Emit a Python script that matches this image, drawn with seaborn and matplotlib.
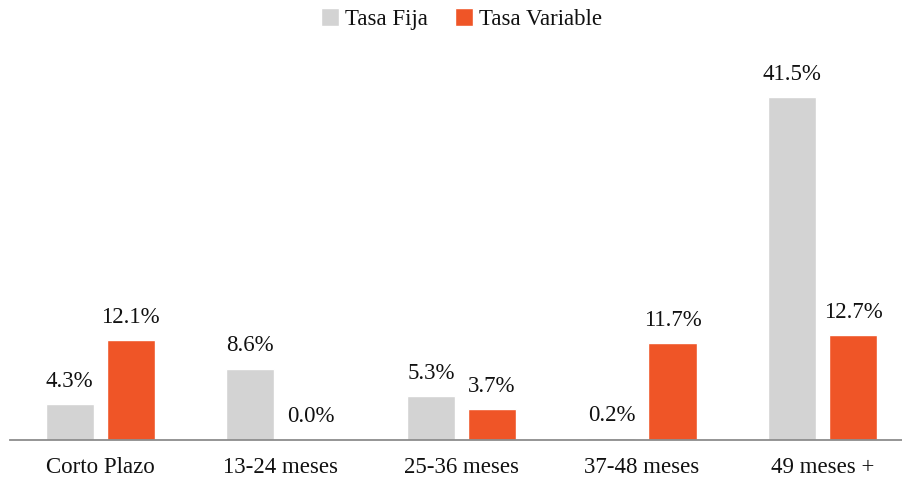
import pandas as pd
import seaborn as sns
import matplotlib.pyplot as plt

# Data
categorias = ["Corto Plazo", "13-24 meses", "25-36 meses", "37-48 meses", "49 meses +"]
tasa_fija = [4.3, 8.6, 5.3, 0.2, 41.5]
tasa_variable = [12.1, 0.0, 3.7, 11.7, 12.7]
series = ["Tasa Fija", "Tasa Variable"]
colores = ["#D3D3D3", "#EF5527"]

df = pd.DataFrame({
    "Plazo": categorias * 2,
    "Tipo": [series[0]] * len(categorias) + [series[1]] * len(categorias),
    "Valor": tasa_fija + tasa_variable,
})

sns.set_style("white")
plt.rcParams['font.family'] = ['Liberation Serif', 'DejaVu Serif']

fig = plt.figure(figsize=(9.02, 4.79), dpi=100)
ax = fig.add_axes([10 / 902, 39 / 479, 892 / 902, 380 / 479])
sns.barplot(data=df, x="Plazo", y="Valor", hue="Tipo", palette=colores,
            saturation=1, width=0.676, gap=0.213, ax=ax, legend=True)

for cont in ax.containers:
    ax.bar_label(cont, labels=[f"{v:.1f}%" for v in cont.datavalues],
                 padding=9, fontsize=16.5, color="#111111")

ax.set_xlim(-0.5, 4.44)
ax.set_ylim(0, 46)
ax.set_xlabel("")
ax.set_ylabel("")
ax.set_yticks([])
ax.tick_params(axis="x", length=0, labelsize=16.5, pad=12, colors="#111111")
for s in ["top", "right", "left"]:
    ax.spines[s].set_visible(False)
ax.spines["bottom"].set_color("#8c8c8c")
ax.spines["bottom"].set_linewidth(1.3)

h, l = ax.get_legend_handles_labels()
leg = ax.legend(h, l, loc="upper center", bbox_to_anchor=(0.506, 1.19), ncol=2,
                frameon=False, fontsize=16.5, handlelength=0.8, handleheight=0.8,
                handletextpad=0.25, columnspacing=1.2)
for t in leg.get_texts():
    t.set_color("#111111")

fig.savefig("out.png", dpi=100)
